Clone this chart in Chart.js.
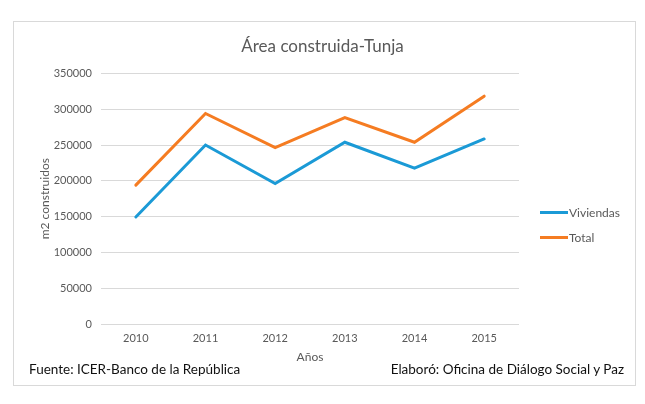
<!DOCTYPE html>
<html>
<head>
<meta charset="utf-8">
<script src="https://cdn.jsdelivr.net/npm/chart.js@4.4.0/dist/chart.umd.min.js"></script>
<style>
  html, body { margin: 0; padding: 0; background: #fff; }
  #wrap { position: relative; width: 645px; height: 404px; font-family: Lato, "Open Sans", sans-serif; }
  #frame { position: absolute; left: 13px; top: 21px; width: 621px; height: 363px; border: 1px solid #d9d9d9; }
  #chart { position: absolute; left: 0; top: 0; }
  .note { position: absolute; top: 361px; font-size: 13.5px; color: #111; white-space: nowrap; }
  #fuente { left: 29px; }
  #elaboro { right: 21px; }
  #legend { position: absolute; left: 540px; top: 200px; margin: 0; padding: 0; list-style: none; }
  #legend li { display: flex; align-items: center; height: 25px; font-size: 12px; color: #595959; }
  #legend li span { display: inline-block; width: 28px; height: 3px; margin-right: 1px; }
</style>
</head>
<body>
<div id="wrap">
  <div id="frame"></div>
  <canvas id="chart" width="645" height="404"></canvas>
  <ul id="legend"></ul>
  <div class="note" id="fuente">Fuente: ICER-Banco de la República</div>
  <div class="note" id="elaboro">Elaboró: Oficina de Diálogo Social y Paz</div>
</div>
<script>
const years = ["2010", "2011", "2012", "2013", "2014", "2015"];
const viviendas = [149500, 250000, 196300, 253800, 217800, 258400];
const total = [194000, 294000, 246200, 288400, 253800, 318200];

const grey = "#595959";

// legend built from the datasets, kept as html text
const htmlLegend = {
  id: "htmlLegend",
  afterUpdate: (chart) => {
    const ul = document.getElementById("legend");
    ul.innerHTML = "";
    chart.data.datasets.forEach((ds) => {
      const li = document.createElement("li");
      const box = document.createElement("span");
      box.style.background = ds.borderColor;
      li.appendChild(box);
      li.appendChild(document.createTextNode(ds.label));
      ul.appendChild(li);
    });
  },
};

new Chart(document.getElementById("chart"), {
  type: "line",
  data: {
    labels: years,
    datasets: [
      { label: "Viviendas", data: viviendas, borderColor: "#1b9ad6", backgroundColor: "#1b9ad6" },
      { label: "Total", data: total, borderColor: "#f57c22", backgroundColor: "#f57c22" },
    ],
  },
  options: {
    responsive: false,
    animation: false,
    layout: { padding: { left: 0, right: 0, top: 0, bottom: 36 } },
    elements: {
      line: { borderWidth: 3, tension: 0, borderCapStyle: "round", borderJoinStyle: "miter" },
      point: { radius: 0, hoverRadius: 0 },
    },
    plugins: {
      legend: { display: false },
      tooltip: { enabled: false },
      title: {
        display: true,
        text: "Área construida-Tunja",
        color: grey,
        font: { family: "Lato", size: 17, weight: "normal" },
        padding: { top: 36, bottom: 17 },
      },
    },
    scales: {
      x: {
        offset: true,
        grid: { display: false, drawTicks: false },
        border: { display: false },
        ticks: { color: grey, font: { family: "Lato", size: 11 }, padding: 8 },
        title: { display: true, text: "Años", color: grey, font: { family: "Lato", size: 12 }, padding: { top: 0, bottom: 4 } },
        afterFit: (s) => { s.height = 44; },
      },
      y: {
        min: 0,
        max: 350000,
        grid: { color: "#d9d9d9", lineWidth: 1, drawTicks: false },
        border: { display: false },
        ticks: {
          stepSize: 50000,
          color: grey,
          font: { family: "Lato", size: 11 },
          padding: 9,
          callback: (v) => String(v),
        },
        title: { display: true, text: "m2 construidos", color: grey, font: { family: "Lato", size: 12 }, padding: { top: 38, bottom: 0 } },
        afterFit: (s) => { s.width = 101; },
      },
      // empty right axis, only keeps room for the legend
      side: {
        position: "right",
        grid: { display: false, drawTicks: false },
        border: { display: false },
        ticks: { display: false },
        afterFit: (s) => { s.width = 126; },
      },
    },
  },
  plugins: [htmlLegend],
});
</script>
</body>
</html>
